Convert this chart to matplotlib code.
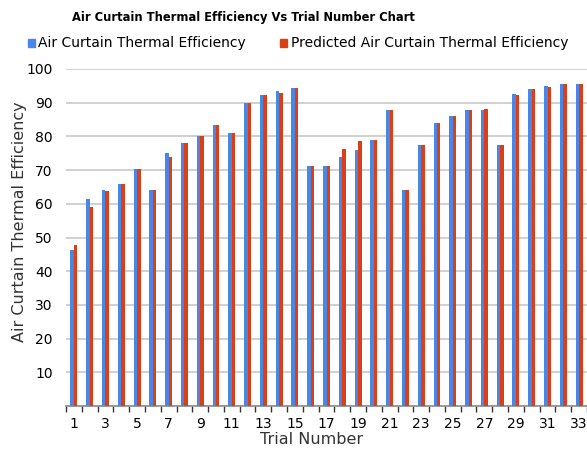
import matplotlib
matplotlib.use("Agg")
import matplotlib.pyplot as plt
import numpy as np
from matplotlib.patches import Rectangle

trials = list(range(1, 34))
actual = [46.2, 61.4, 64.1, 65.9, 70.3, 64.2, 75.0, 77.9, 80.0, 83.5, 81.1,
          89.9, 92.2, 93.6, 94.4, 71.3, 71.3, 74.0, 76.0, 79.0, 87.7, 64.2,
          77.5, 84.1, 86.0, 87.8, 87.9, 77.5, 92.5, 94.0, 95.0, 95.5, 95.5]
predicted = [47.8, 59.1, 63.9, 65.8, 70.2, 64.2, 74.0, 77.9, 80.2, 83.5, 81.1,
             89.9, 92.2, 93.0, 94.4, 71.3, 71.3, 76.2, 78.7, 79.0, 87.7, 64.2,
             77.5, 84.1, 86.0, 87.8, 88.1, 77.5, 92.4, 94.2, 94.8, 95.5, 95.5]
yticks = [10, 20, 30, 40, 50, 60, 70, 80, 90, 100]

blue = "#4a86e8"
red = "#dc3f16"

fig = plt.figure(figsize=(5.87, 4.5), dpi=100)
W, H = 587, 450
left, right, top, bottom = 66, 587, 69, 406
ax = fig.add_axes([left / W, 1 - bottom / H, (right - left) / W, (bottom - top) / H])

x = np.arange(len(trials))
bw = 0.22
ax.bar(x - bw / 2, actual, width=bw, color=blue, linewidth=0, zorder=3)
ax.bar(x + bw / 2, predicted, width=bw, color=red, linewidth=0, zorder=3)

ax.set_xlim(-0.5, len(trials) - 0.5)
ax.set_ylim(0, 100)
ax.set_yticks(yticks)
ax.set_yticklabels([str(v) for v in yticks], fontsize=10)
ax.yaxis.grid(True, color="#c8c8c8", linewidth=1.2, zorder=0)
ax.tick_params(axis="y", length=0, pad=9.5)

ax.set_xticks(x[::2])
ax.set_xticklabels([str(t) for t in trials[::2]], fontsize=10)
ax.set_xticks(np.arange(-0.5, len(trials), 1), minor=True)
ax.tick_params(axis="x", which="major", length=0, pad=8)
ax.tick_params(axis="x", which="minor", length=4, width=1, color="#333333", direction="out")

for s in ["top", "right", "left"]:
    ax.spines[s].set_visible(False)
ax.spines["bottom"].set_color("#888888")
ax.spines["bottom"].set_linewidth(1.2)

fig.text(20 / W, 1 - 222 / H, "Air Curtain Thermal Efficiency", fontsize=11.5,
         color="#333333", rotation=90, ha="center", va="center")
fig.text(312 / W, 1 - 440 / H, "Trial Number", fontsize=11.5, color="#333333",
         ha="center", va="center")

fig.text(72 / W, 1 - 17 / H, "Air Curtain Thermal Efficiency Vs Trial Number Chart",
         fontsize=8.3, fontweight="bold", family="DejaVu Sans", ha="left", va="center")

fig.patches.append(Rectangle((28 / W, 1 - 47 / H), 7 / W, 8 / H, color=blue, transform=fig.transFigure))
fig.text(38 / W, 1 - 43 / H, "Air Curtain Thermal Efficiency", fontsize=10, ha="left", va="center")
fig.patches.append(Rectangle((280 / W, 1 - 47 / H), 7 / W, 8 / H, color=red, transform=fig.transFigure))
fig.text(291 / W, 1 - 43 / H, "Predicted Air Curtain Thermal Efficiency", fontsize=10, ha="left", va="center")

fig.savefig("out.png", dpi=100)
